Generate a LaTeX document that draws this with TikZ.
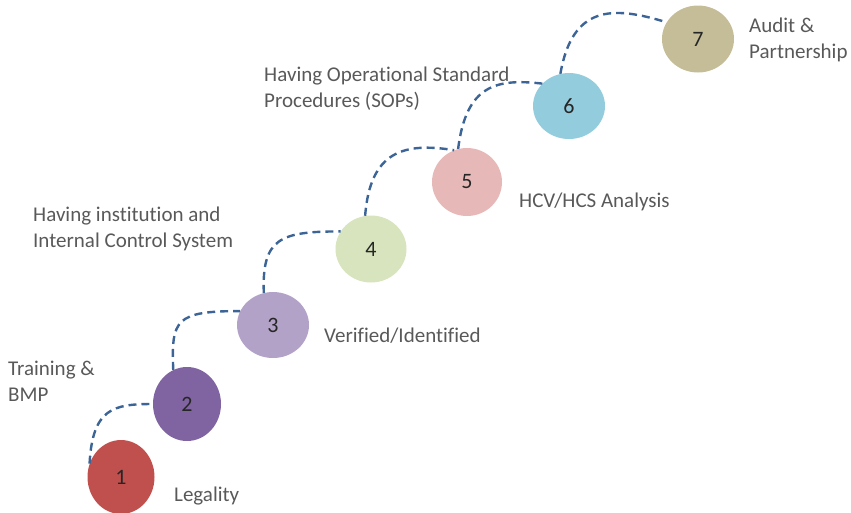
\documentclass[tikz,border=0pt]{standalone}
\usepackage{fontspec}
\setmainfont[Ligatures=CommonOff]{Carlito}
\usetikzlibrary{shapes.geometric}

\definecolor{stageA}{HTML}{C0504D}
\definecolor{stageB}{HTML}{8064A2}
\definecolor{stageC}{HTML}{B3A2C7}
\definecolor{stageD}{HTML}{D7E4BD}
\definecolor{stageE}{HTML}{E6B9B8}
\definecolor{stageF}{HTML}{93CDDD}
\definecolor{stageG}{HTML}{C4BD97}
\definecolor{trailblue}{HTML}{3C6496}
\definecolor{textgray}{HTML}{595959}

\tikzset{
    stage/.style={ellipse, inner sep=0pt, font=\fontsize{22}{26}\selectfont, text=black!85},
    steptext/.style={inner sep=0pt, font=\fontsize{21}{26}\selectfont, text=textgray},
    trail/.style={draw=trailblue, line width=2.4pt, dash pattern=on 8pt off 5pt}
}

\begin{document}
\begin{tikzpicture}[x=1pt,y=-1pt]
    \useasboundingbox (0,0) rectangle (851,512);

    % the seven stages
    \foreach \n/\x/\y/\w/\h/\c in {1/121/477/67/74/stageA,2/187/404/68/74/stageB,
        3/273/325/72/66/stageC,4/371/249/71/67/stageD,5/467/182/70/68/stageE,
        6/569/106/72/66/stageF,7/698/39/72/67/stageG}
        {\node[stage, fill=\c, minimum width=\w, minimum height=\h] (c\n) at (\x,\y) {\n};}

    % dashed trail between the stages
    \draw[trail] (c1.157) .. controls +(3,-55) and +(-40,0) .. (c2.180);
    \draw[trail] (c2.112) .. controls +(-2,-50) and +(-65,0) .. (c3.157);
    \draw[trail] (c3.106) .. controls +(-2,-55) and +(-60,0) .. (c4.150);
    \draw[trail] (c4.100) .. controls +(5,-65) and +(-50,-8) .. (c5.112);
    \draw[trail] (c5.105) .. controls +(8,-65) and +(-45,-5) .. (c6.140);
    \draw[trail] (c6.105) .. controls +(12,-68) and +(-55,-17) .. (c7.152);

    % captions (two-line ones sit on their last baseline)
    \node[steptext, anchor=base west] (t1) at (174,501) {Legality};
    \node[steptext, anchor=base west, align=left] (t2) at (8,401) {Training \&\\BMP};
    \node[steptext, anchor=base west] (t3) at (324,342) {Verified/Identified};
    \node[steptext, anchor=base west, align=left] (t4) at (33,247) {Having institution and\\Internal Control System};
    \node[steptext, anchor=base west] (t5) at (519,207) {HCV/HCS Analysis};
    \node[steptext, anchor=base west, align=left] (t6) at (264,107) {Having Operational Standard\\Procedures (SOPs)};
    \node[steptext, anchor=base west, align=left] (t7) at (749,58) {Audit \&\\Partnership};
\end{tikzpicture}
\end{document}
